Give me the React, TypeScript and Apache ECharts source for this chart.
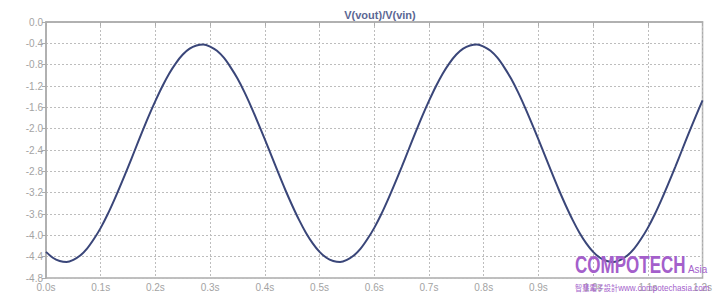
import React, { useEffect, useRef } from "react";
import * as echarts from "echarts";

const times: number[] = [
  0, 0.0125, 0.025, 0.0375, 0.05, 0.0625, 0.075, 0.0875, 0.1, 0.1125, 0.125,
  0.1375, 0.15, 0.1625, 0.175, 0.1875, 0.2, 0.2125, 0.225, 0.2375, 0.25,
  0.2625, 0.275, 0.2875, 0.3, 0.3125, 0.325, 0.3375, 0.35, 0.3625, 0.375,
  0.3875, 0.4, 0.4125, 0.425, 0.4375, 0.45, 0.4625, 0.475, 0.4875, 0.5,
  0.5125, 0.525, 0.5375, 0.55, 0.5625, 0.575, 0.5875, 0.6, 0.6125, 0.625,
  0.6375, 0.65, 0.6625, 0.675, 0.6875, 0.7, 0.7125, 0.725, 0.7375, 0.75,
  0.7625, 0.775, 0.7875, 0.8, 0.8125, 0.825, 0.8375, 0.85, 0.8625, 0.875,
  0.8875, 0.9, 0.9125, 0.925, 0.9375, 0.95, 0.9625, 0.975, 0.9875, 1.0,
  1.0125, 1.025, 1.0375, 1.05, 1.0625, 1.075, 1.0875, 1.1, 1.1125, 1.125,
  1.1375, 1.15, 1.1625, 1.175, 1.1875, 1.2,
];

const gain: number[] = [
  -4.31, -4.42, -4.48, -4.5, -4.46, -4.38, -4.25, -4.07, -3.86, -3.61, -3.33,
  -3.03, -2.72, -2.4, -2.08, -1.77, -1.48, -1.21, -0.97, -0.77, -0.61, -0.5,
  -0.44, -0.42, -0.46, -0.54, -0.67, -0.85, -1.06, -1.31, -1.59, -1.89, -2.2,
  -2.52, -2.84, -3.15, -3.44, -3.71, -3.95, -4.15,
  -4.31, -4.42, -4.48, -4.5, -4.46, -4.38, -4.25, -4.07, -3.86, -3.61, -3.33,
  -3.03, -2.72, -2.4, -2.08, -1.77, -1.48, -1.21, -0.97, -0.77, -0.61, -0.5,
  -0.44, -0.42, -0.46, -0.54, -0.67, -0.85, -1.06, -1.31, -1.59, -1.89, -2.2,
  -2.52, -2.84, -3.15, -3.44, -3.71, -3.95, -4.15,
  -4.31, -4.42, -4.48, -4.5, -4.46, -4.38, -4.25, -4.07, -3.86, -3.61, -3.33,
  -3.03, -2.72, -2.4, -2.08, -1.77, -1.47,
];

const title = "V(vout)/V(vin)";
const brand = "COMPOTECH";
const brandSuffix = "Asia";
const brandCjk = "智慧電子設計";
const brandUrl = "www.compotechasia.com";

export default function App() {
  const ref = useRef<HTMLDivElement>(null);
  useEffect(() => {
    if (!ref.current) return;
    const chart = echarts.init(ref.current, null, { renderer: "svg" });
    const labelColor = "#a3a3a3";
    const purple = "#a45fcb";
    chart.setOption({
      animation: false,
      backgroundColor: "#ffffff",
      title: {
        text: title,
        left: 375,
        textAlign: "center",
        top: 4,
        textStyle: {
          fontSize: 11,
          fontWeight: "bold",
          color: "#5b6794",
          fontFamily: "Liberation Sans, Arial, sans-serif",
        },
      },
      grid: {
        left: 46,
        right: 10,
        top: 22,
        bottom: 19,
        show: true,
        borderColor: "#acacac",
        borderWidth: 1.5,
      },
      xAxis: {
        type: "value",
        min: 0,
        max: 1.2,
        interval: 0.1,
        axisLine: { show: true, lineStyle: { color: "#acacac", width: 1.5 } },
        axisTick: { show: true, length: 4, lineStyle: { color: "#acacac" } },
        axisLabel: {
          color: labelColor,
          fontSize: 10,
          margin: 4,
          fontFamily: "Liberation Sans, Arial, sans-serif",
          formatter: (v: number) => v.toFixed(1) + "s",
        },
        splitLine: {
          show: true,
          lineStyle: { color: "#bdbdbd", type: [2, 2], width: 1 },
        },
      },
      yAxis: {
        type: "value",
        min: -4.8,
        max: 0,
        interval: 0.4,
        axisLine: { show: true, lineStyle: { color: "#acacac", width: 1.5 } },
        axisTick: { show: true, length: 4, lineStyle: { color: "#acacac" } },
        axisLabel: {
          color: labelColor,
          fontSize: 10,
          margin: 3,
          fontFamily: "Liberation Sans, Arial, sans-serif",
          formatter: (v: number) => (Math.abs(v) < 1e-9 ? "0.0" : v.toFixed(1)),
        },
        splitLine: {
          show: true,
          lineStyle: { color: "#bdbdbd", type: [2, 2], width: 1 },
        },
      },
      series: [
        {
          type: "line",
          data: times.map((t, i) => [t, gain[i]]),
          smooth: 0.3,
          showSymbol: false,
          lineStyle: { color: "#3a4679", width: 2 },
        },
      ],
      graphic: [
        {
          type: "text",
          x: 575,
          y: 254,
          scaleX: 0.74,
          z: 100,
          style: {
            text: brand,
            fontSize: 23,
            fontWeight: "bold",
            fontFamily: "Liberation Sans, Arial, sans-serif",
            fill: purple,
            verticalAlign: "top",
          },
        },
        {
          type: "text",
          x: 688,
          y: 264,
          scaleX: 0.9,
          z: 100,
          style: {
            text: brandSuffix,
            fontSize: 11,
            fontFamily: "Liberation Sans, Arial, sans-serif",
            fill: purple,
            verticalAlign: "top",
          },
        },
        {
          type: "text",
          x: 575,
          y: 283,
          scaleX: 0.9,
          z: 100,
          style: {
            rich: {
              c: {
                fontSize: 8,
                fontFamily: "Noto Sans CJK TC, sans-serif",
                fill: purple,
              },
              w: {
                fontSize: 9,
                fontFamily: "Liberation Sans, Arial, sans-serif",
                fill: purple,
              },
            },
            text: "{c|" + brandCjk + "}{w|" + brandUrl + "}",
            verticalAlign: "top",
          },
        },
      ],
    });
    return () => chart.dispose();
  }, []);
  return (
    <div
      ref={ref}
      style={{ position: "fixed", left: 0, top: 0, width: 715, height: 297 }}
    />
  );
}
